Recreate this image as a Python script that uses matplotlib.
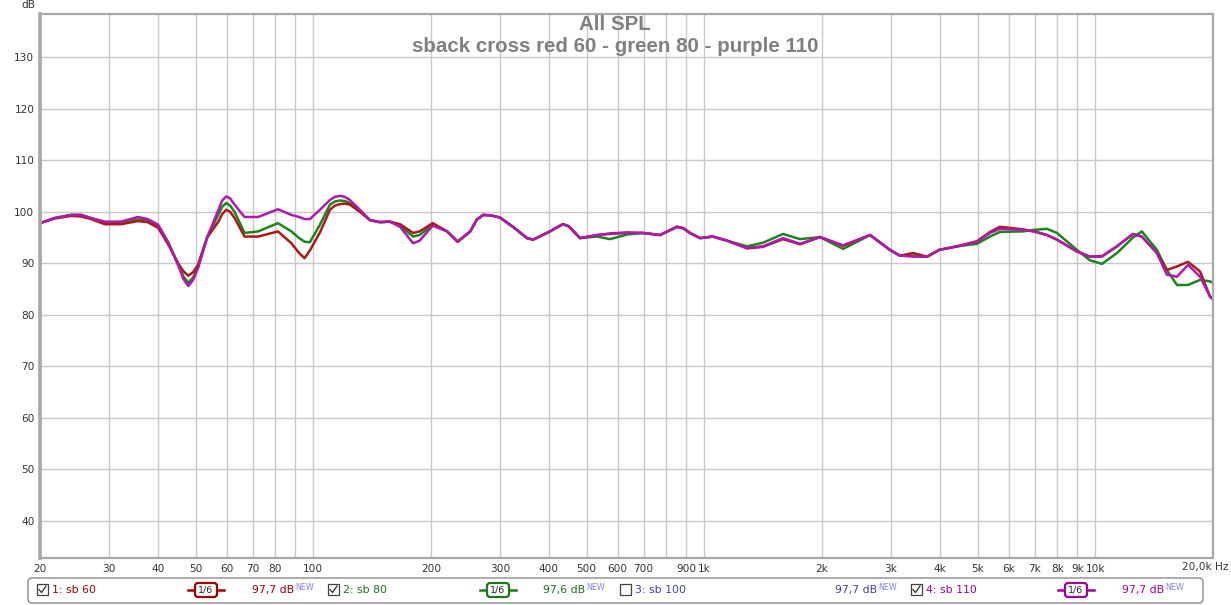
import numpy as np
import matplotlib
matplotlib.use("Agg")
import matplotlib.pyplot as plt
from matplotlib.patches import FancyBboxPatch, Rectangle

# ----------------------------------------------------------------------
# Data (frequency in Hz, level in dB)
# ----------------------------------------------------------------------

freq = [20, 21.8, 24, 25.5, 27, 29.3, 32.2, 35.6, 37.7, 40.1, 42.6, 45.2,
        46.5, 47.9, 49.3, 50.7, 53.5, 57.2, 58.5, 59.9, 61.3, 62.9, 66.7,
        72.3, 81.2, 87.9, 92, 95, 98, 104, 110.3, 113.5, 117, 120.5, 124,
        131.6, 139.6, 148, 157, 166.7, 180, 187, 202, 220, 234, 252, 262,
        272, 285, 300, 324, 352, 365, 403, 420, 435, 450, 481, 532,
        574, 634, 697, 771, 820, 851, 885, 919, 975, 1052, 1143, 1286, 1413,
        1589, 1758, 1977, 2265, 2655, 2986, 3164, 3420, 3714, 3986, 4430,
        4980, 5380, 5700, 6530, 6970, 7520, 7980, 8980, 9680, 10400, 11360,
        12480, 13150, 14380, 15240, 16180, 17260, 18540, 19640, 20000]

sb60 = [97.8, 98.7, 99.2, 99.1, 98.6, 97.6, 97.6, 98.2, 98.0, 96.9, 93.6, 89.9,
        88.5, 87.6, 88.3, 89.7, 95.0, 98.1, 99.6, 100.4, 100.0, 98.8, 95.2,
        95.2, 96.2, 93.9, 92.0, 91.0, 92.5, 96.0, 100.4, 101.2, 101.5, 101.6, 101.4,
        100.0, 98.4, 98.0, 98.1, 97.6, 95.9, 96.2, 97.8, 96.2, 94.2, 96.2, 98.5,
        99.4, 99.3, 98.9, 97.1, 94.9, 94.6, 96.2, 97.0, 97.6, 97.2, 94.9, 95.5,
        95.8, 96.0, 95.9, 95.5, 96.5, 97.1, 96.8, 95.9, 94.9, 95.2, 94.4, 92.9, 93.2,
        94.7, 93.7, 95.1, 93.4, 95.5, 92.6, 91.5, 92.0, 91.3, 92.6, 93.3,
        94.3, 96.1, 97.1, 96.6, 96.2, 95.5, 94.6, 92.3, 91.3, 91.4, 93.3,
        95.7, 95.2, 92.0, 88.7, 89.4, 90.3, 88.4, 83.6, 83.0]

sb80 = [97.8, 98.8, 99.4, 99.4, 98.8, 97.9, 97.9, 98.5, 98.4, 97.3, 94.0, 89.7,
        87.5, 86.2, 87.3, 89.3, 95.0, 99.5, 101.0, 101.7, 101.2, 100.0, 95.9,
        96.2, 97.8, 96.2, 94.9, 94.2, 94.1, 97.5, 101.4, 102.0, 102.2, 102.1, 101.7,
        100.2, 98.4, 98.0, 98.1, 97.3, 95.2, 95.5, 97.5, 96.2, 94.2, 96.2, 98.5,
        99.4, 99.3, 98.9, 97.1, 94.9, 94.6, 96.2, 97.0, 97.6, 97.2, 94.9, 95.2,
        94.7, 95.6, 95.9, 95.5, 96.5, 97.1, 96.8, 95.9, 94.9, 95.2, 94.4, 93.3, 94.0,
        95.7, 94.7, 95.1, 92.8, 95.5, 92.6, 91.5, 91.5, 91.3, 92.6, 93.3,
        93.8, 95.2, 96.1, 96.2, 96.5, 96.7, 95.9, 92.6, 90.6, 89.9, 92.0,
        95.0, 96.2, 92.6, 88.7, 85.8, 85.8, 86.8, 86.5, 86.2]

sb110 = [97.8, 98.8, 99.4, 99.4, 98.8, 98.1, 98.1, 99.0, 98.6, 97.5, 94.0, 89.5,
         87.0, 85.6, 86.8, 89.0, 95.0, 100.4, 102.2, 103.0, 102.6, 101.4, 99.0,
         99.0, 100.5, 99.4, 99.0, 98.6, 98.6, 100.4, 102.3, 102.9, 103.1, 102.9, 102.3,
         100.4, 98.4, 98.0, 98.1, 97.1, 93.9, 94.4, 97.3, 96.2, 94.2, 96.2, 98.5,
         99.4, 99.3, 98.9, 97.1, 94.9, 94.6, 96.2, 97.0, 97.6, 97.2, 94.9, 95.5,
         95.7, 95.9, 95.9, 95.5, 96.5, 97.1, 96.8, 95.9, 94.9, 95.2, 94.4, 93.0, 93.3,
         94.9, 93.8, 95.1, 93.5, 95.5, 92.6, 91.5, 91.3, 91.3, 92.6, 93.3,
         94.2, 95.9, 96.7, 96.5, 96.2, 95.5, 94.6, 92.3, 91.3, 91.3, 93.3,
         95.7, 95.2, 92.0, 87.8, 87.4, 89.7, 87.4, 83.6, 83.0]

xticks = [20, 30, 40, 50, 60, 70, 80, 90, 100, 200, 300, 400, 500, 600, 700,
          800, 900, 1000, 2000, 3000, 4000, 5000, 6000, 7000, 8000, 9000,
          10000, 20000]
xlabels = ["20", "30", "40", "50", "60", "70", "80", "", "100", "200", "300",
           "400", "500", "600", "700", "", "900", "1k", "2k", "3k", "4k", "5k",
           "6k", "7k", "8k", "9k", "10k", ""]
yticks = [40, 50, 60, 70, 80, 90, 100, 110, 120, 130]

legend_names = ["1: sb 60", "2: sb 80", "3: sb 100", "4: sb 110"]
legend_levels = ["97,7 dB", "97,6 dB", "97,7 dB", "97,7 dB"]
legend_checked = [True, True, False, True]

# ----------------------------------------------------------------------
# Figure
# ----------------------------------------------------------------------

W, H = 1231, 605
fig = plt.figure(figsize=(W / 100, H / 100), dpi=100)
fig.patch.set_facecolor("white")

ax = fig.add_axes([40 / W, 1 - 557.5 / H, (1213 - 40) / W, (557.5 - 13.5) / H])
ax.set_xscale("log")
ax.set_xlim(20, 20000)
ax.set_ylim(32.9, 138.5)

ax.set_xticks(xticks)
ax.set_xticklabels(xlabels)
ax.xaxis.set_minor_locator(matplotlib.ticker.NullLocator())
ax.set_yticks(yticks)
ax.tick_params(length=0, labelsize=7.6, labelcolor="#333333")
ax.tick_params(axis="x", pad=5)
ax.tick_params(axis="y", pad=4)
ax.grid(True, color="#c8c8c8", lw=1.0)
ax.set_axisbelow(True)
for s in ax.spines.values():
    s.set_color("#a8a8a8")
    s.set_linewidth(1.6)
ax.spines["left"].set_linewidth(2.6)

ax.plot(freq, sb80, color="#1a861a", lw=1.8, solid_capstyle="round", solid_joinstyle="round")
ax.plot(freq, sb60, color="#b01818", lw=1.8, solid_capstyle="round", solid_joinstyle="round")
ax.plot(freq, sb110, color="#b018b0", lw=1.8, solid_capstyle="round", solid_joinstyle="round")

# overlay in pixel coordinates for titles and legend
ov = fig.add_axes([0, 0, 1, 1])
ov.set_xlim(0, W)
ov.set_ylim(H, 0)
ov.set_axis_off()

title_kw = dict(ha="center", va="center", color="#808080", fontweight="bold",
                fontsize=14.8, family="Liberation Sans")
ov.text(615, 25, "All SPL", **title_kw)
ov.text(615, 47, "sback cross red 60 - green 80 - purple 110", **title_kw)
ov.text(28, 5, "dB", ha="center", va="center", fontsize=7.6, color="#333333")
ov.text(1228, 567, "20,0k Hz", ha="right", va="center", fontsize=7.6, color="#333333")

# legend strip
ov.add_patch(FancyBboxPatch((28, 578), 1175, 25,
                            boxstyle="round,pad=0,rounding_size=4",
                            fc="white", ec="#8c8c8c", lw=1.0))

text_colors = ["#a00000", "#207020", "#4040a8", "#a000a0"]
line_colors = ["#a00000", "#1a7a1a", None, "#a000a0"]
check_x = [37, 328, 620, 911]
sym_x = [206, 498, None, 1076]
level_x = [252, 543, 835, 1122]

for i in range(4):
    cx = check_x[i]
    ov.add_patch(Rectangle((cx, 584), 11, 11, fc="white", ec="#404040", lw=0.9))
    if legend_checked[i]:
        ov.plot([cx + 2, cx + 4.5, cx + 9], [589.5, 592.5, 586], color="#303030", lw=0.9)
    ov.text(cx + 15, 590, legend_names[i], ha="left", va="center",
            fontsize=7.8, color=text_colors[i])
    if sym_x[i] is not None:
        sx = sym_x[i]
        ov.plot([sx - 18, sx + 18], [590, 590], color=line_colors[i], lw=1.8)
        ov.add_patch(FancyBboxPatch((sx - 11, 583), 22, 14,
                                    boxstyle="round,pad=0,rounding_size=3",
                                    fc="white", ec=line_colors[i], lw=1.6, zorder=3))
        ov.text(sx, 590, "1/6", ha="center", va="center", fontsize=6.8,
                color="#202020", zorder=4)
    t = ov.text(level_x[i], 590, legend_levels[i], ha="left", va="center",
                fontsize=7.8, color=text_colors[i])
    ov.annotate("NEW", xy=(1, 1), xycoords=t, xytext=(0.5, 1.5),
                textcoords="offset points", ha="left", va="top",
                fontsize=5.8, color="#8080ff")

fig.savefig("out.png", dpi=100)
